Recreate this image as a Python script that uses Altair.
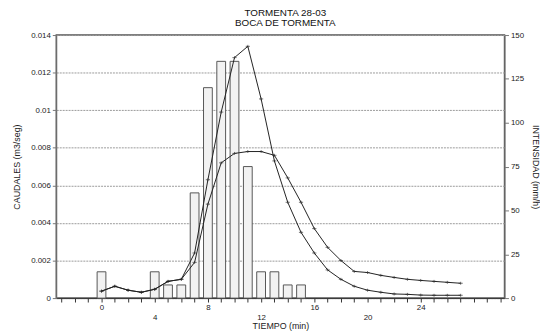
import altair as alt
import pandas as pd

# ---- data ----
minutes = list(range(0, 28))
caudal_a = [0.00037, 0.00063, 0.00042, 0.00031, 0.00047, 0.00089, 0.0010, 0.0024,
            0.0063, 0.0099, 0.0128, 0.0134, 0.0106, 0.0073, 0.0051, 0.0035,
            0.0024, 0.0015, 0.0010, 0.00063, 0.00042, 0.00031, 0.00022, 0.0002,
            0.00016, 0.00015, 0.00015, 0.00015]
caudal_b = [0.00037, 0.00063, 0.00042, 0.00031, 0.00047, 0.00089, 0.0010, 0.0019,
            0.0050, 0.0072, 0.0077, 0.0078, 0.0078, 0.0076, 0.0064, 0.0051,
            0.0037, 0.0027, 0.0020, 0.00142, 0.00136, 0.00121, 0.0011, 0.0010,
            0.00094, 0.00089, 0.00084, 0.00079]
bar_minutes = [0, 4, 5, 6, 7, 8, 9, 10, 11, 12, 13, 14, 15]
intensidad = [15, 15, 7.5, 7.5, 60, 120, 135, 135, 75, 15, 15, 7.5, 7.5]
left_ticks = [0, 0.002, 0.004, 0.006, 0.008, 0.010, 0.012, 0.014]
right_ticks = [0, 25, 50, 75, 100, 125, 150]
x_ticks = list(range(-3, 31))

lines_df = pd.DataFrame({
    "t": minutes * 2,
    "q": caudal_a + caudal_b,
    "serie": ["A"] * len(minutes) + ["B"] * len(minutes),
})
bars_df = pd.DataFrame({"t": bar_minutes, "i": intensidad})

FONT = "Liberation Sans"

x_scale = alt.Scale(domain=[-3.4, 30.3], nice=False, zero=False)
x_axis = alt.Axis(
    title="TIEMPO (min)",
    values=x_ticks,
    labelExpr="(datum.value >= 0 && datum.value <= 24 && datum.value % 4 == 0) ? toString(datum.value) : ''",
    labelPadding={"condition": {"test": "datum.value % 8 == 4", "value": 12}, "value": 2},
    labelOverlap=False,
    labelFlush=False,
    grid=False,
    tickSize=4,
    domainColor="#333",
    tickColor="#333",
    titlePadding=0,
)

bars = alt.Chart(bars_df).transform_calculate(
    x0="datum.t - 0.33", x1="datum.t + 0.33", base="0"
).mark_rect(fill="#f2f2f2", stroke="#555555", strokeWidth=1).encode(
    x=alt.X("x0:Q", scale=x_scale, axis=x_axis),
    x2="x1:Q",
    y=alt.Y("i:Q", scale=alt.Scale(domain=[0, 150], nice=False),
            axis=alt.Axis(orient="right", values=right_ticks, grid=False,
                          title="INTENSIDAD (mm/h)", tickSize=4,
                          domainColor="#777", tickColor="#777", titlePadding=7)),
    y2="base:Q",
)

left_axis = alt.Axis(orient="left", values=left_ticks, format="~g", grid=True,
                     gridDash=[2, 1], gridColor="#999", gridWidth=1,
                     title="CAUDALES (m3/seg)", tickSize=4,
                     domainColor="#777", tickColor="#777", titlePadding=9)
left_scale = alt.Scale(domain=[0, 0.014], nice=False)

line = alt.Chart(lines_df).mark_line(color="#222", strokeWidth=1).encode(
    x=alt.X("t:Q", scale=x_scale, axis=x_axis),
    y=alt.Y("q:Q", scale=left_scale, axis=left_axis),
    detail="serie:N",
)
pts = alt.Chart(lines_df).mark_point(
    shape="M-1,0L1,0M0,-0.7L0,0.7", size=18, filled=False, color="#222", strokeWidth=0.9
).encode(
    x=alt.X("t:Q", scale=x_scale, axis=x_axis),
    y=alt.Y("q:Q", scale=left_scale, axis=left_axis),
    detail="serie:N",
)

chart = alt.layer(bars, line + pts).resolve_scale(y="independent").properties(
    width=455,
    height=267,
    autosize=alt.AutoSizeParams(type="none"),
    padding={"left": 49, "top": 25, "right": 36, "bottom": 35},
    title=alt.Title(["TORMENTA 28-03", "BOCA DE TORMENTA"], fontSize=10,
                    fontWeight="normal", font=FONT, anchor="middle",
                    lineHeight=10, offset=3, dx=5, color="#111"),
).configure_view(stroke="#555", strokeWidth=1.5).configure_axis(
    labelFont=FONT, titleFont=FONT, labelFontSize=8, titleFontSize=9,
    titleFontWeight="normal", labelColor="#222", titleColor="#222", labelPadding=2,
)

chart.save("out.html", embed_options={"renderer": "svg", "actions": False})
